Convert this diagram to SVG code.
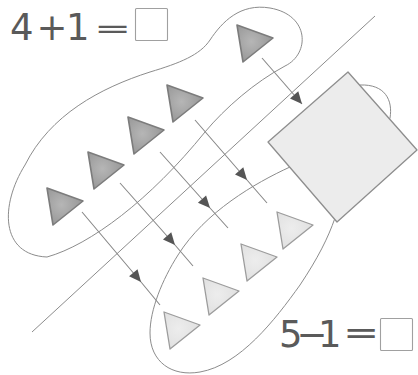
<svg xmlns="http://www.w3.org/2000/svg" xmlns:xlink="http://www.w3.org/1999/xlink" width="418" height="375" viewBox="0 0 418 375">
  <style>
    .outline { fill: none; stroke: #8c8c8c; stroke-width: 1; }
    .conn { fill: none; stroke: #888; stroke-width: 1.1; }
    .dark { fill: url(#gDark); stroke: #7c7c7c; stroke-width: 1.6; stroke-linejoin: round; }
    .light { fill: url(#gLight); stroke: #9c9c9c; stroke-width: 1.3; stroke-linejoin: round; }
    .sq { fill: #ececec; stroke: #8e8e8e; stroke-width: 1.3; stroke-linejoin: round; }
    .box { fill: #ffffff; stroke: #a0a0a0; stroke-width: 1.1; }
    .eq { font-family: "DejaVu Sans", sans-serif; font-size: 37px; fill: #5a5a5a; }
  </style>
  <defs>
    <radialGradient id="gDark" cx="0.4" cy="0.45" r="0.6">
      <stop offset="0" stop-color="#b6b6b6"/>
      <stop offset="1" stop-color="#979797"/>
    </radialGradient>
    <radialGradient id="gLight" cx="0.4" cy="0.45" r="0.6">
      <stop offset="0" stop-color="#ededed"/>
      <stop offset="1" stop-color="#e0e0e0"/>
    </radialGradient>
    <path id="tri" d="M0,0 L36,13 L6,37 Z"/>
    <marker id="ah" markerUnits="userSpaceOnUse" markerWidth="14" markerHeight="14" viewBox="-13 -7 14 14" refX="0" refY="0" orient="auto">
      <path d="M0,0 L-12,-5.5 L-12,5.5 Z" fill="#555"/>
    </marker>
  </defs>

  <!-- regions and dividing line -->
  <g id="upper-group">
    <path class="outline" d="M47,257 C90,245 150,200 205,132 C225,108 255,82 285,66 C310,54 310,15 270,8 C240,3 222,22 210,40 C200,55 180,63 150,72 C100,88 50,115 25,165 C0,205 0,255 47,257 Z"/>
  </g>
  <g id="lower-group">
    <path class="outline" d="M290,167 C255,183 205,212 178,255 C162,280 150,310 150,333 C150,362 172,377 200,372 C240,365 275,320 300,285 C318,258 328,238 335,218 L390,118 C393,100 385,84 360,85 Z"/>
  </g>
  <g id="divider">
    <line class="outline" x1="32" y1="332" x2="375" y2="16"/>
  </g>

  <!-- connectors -->
  <g id="connectors">
    <polyline class="conn" points="82,212 141,282 160,305" marker-mid="url(#ah)"/>
    <polyline class="conn" points="120,183 175,245 193,266" marker-mid="url(#ah)"/>
    <polyline class="conn" points="160,152 210,208 228,228" marker-mid="url(#ah)"/>
    <polyline class="conn" points="195,120 247,180 267,203" marker-mid="url(#ah)"/>
    <polyline class="conn" points="262,58 302,104" marker-end="url(#ah)"/>
  </g>

  <!-- dark triangles -->
  <g id="dark-1"><use xlink:href="#tri" href="#tri" x="47" y="188" class="dark"/></g>
  <g id="dark-2"><use xlink:href="#tri" href="#tri" x="88" y="152" class="dark"/></g>
  <g id="dark-3"><use xlink:href="#tri" href="#tri" x="128" y="117" class="dark"/></g>
  <g id="dark-4"><use xlink:href="#tri" href="#tri" x="167" y="85" class="dark"/></g>
  <g id="dark-5"><use xlink:href="#tri" href="#tri" x="237" y="25" class="dark"/></g>

  <!-- light triangles -->
  <g id="light-1"><use xlink:href="#tri" href="#tri" x="164" y="312" class="light"/></g>
  <g id="light-2"><use xlink:href="#tri" href="#tri" x="203" y="278" class="light"/></g>
  <g id="light-3"><use xlink:href="#tri" href="#tri" x="241" y="244" class="light"/></g>
  <g id="light-4"><use xlink:href="#tri" href="#tri" x="277" y="212" class="light"/></g>

  <!-- square -->
  <g id="square">
    <polygon class="sq" points="348,72 417,150 337,222 268,142"/>
  </g>

  <!-- equations -->
  <g id="eq-top">
    <text class="eq" x="10 36.5 66" y="40">4+1</text>
    <text class="eq" transform="translate(94,38) scale(1.2,0.74)">=</text>
    <rect class="box" x="135.5" y="8.5" width="32" height="32" rx="1"/>
  </g>
  <g id="eq-bottom">
    <text class="eq" x="279 296.5 318" y="347">5−1</text>
    <text class="eq" transform="translate(343,344) scale(1.17,0.85)">=</text>
    <rect class="box" x="380.5" y="318.5" width="32" height="32" rx="1"/>
  </g>
</svg>
